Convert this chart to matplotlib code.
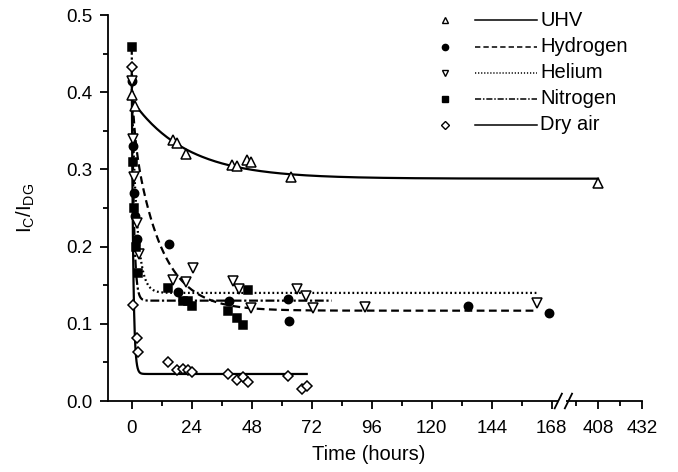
import numpy as np
import matplotlib
matplotlib.use("Agg")
import matplotlib.pyplot as plt
from matplotlib.ticker import FixedLocator, NullFormatter

plt.rcParams['font.family'] = ['Liberation Sans', 'DejaVu Sans']
plt.rcParams['mathtext.fontset'] = 'custom'
plt.rcParams['mathtext.rm'] = 'Liberation Sans'
plt.rcParams['mathtext.it'] = 'Liberation Sans'

# ---------------- data ----------------
series_names = ["UHV", "Hydrogen", "Helium", "Nitrogen", "Dry air"]

uhv_t = [0, 1.3, 16.7, 18, 21.7, 40, 42, 46.2, 47.6, 63.6, 408]
uhv_v = [0.397, 0.382, 0.338, 0.334, 0.320, 0.306, 0.305, 0.312, 0.309, 0.290, 0.282]

h2_t = [0, 0.5, 1.0, 1.5, 2.2, 15, 18.6, 38.9, 62.4, 63, 134.7, 167]
h2_v = [0.414, 0.33, 0.27, 0.24, 0.21, 0.203, 0.141, 0.130, 0.132, 0.103, 0.123, 0.114]

he_t = [0, 0.5, 1.0, 2.0, 3.0, 16.7, 21.7, 24.7, 40.7, 43, 47.6, 66, 69.7, 72.7, 93.3, 162.2]
he_v = [0.414, 0.34, 0.29, 0.23, 0.19, 0.157, 0.154, 0.172, 0.155, 0.145, 0.120, 0.145, 0.136, 0.121, 0.122, 0.127]

n2_t = [0, 0.5, 1.0, 1.8, 2.5, 14.7, 20.4, 22.7, 24, 38.7, 42, 44.4, 46.7]
n2_v = [0.458, 0.31, 0.25, 0.20, 0.166, 0.146, 0.129, 0.129, 0.123, 0.116, 0.108, 0.098, 0.144]

air_t = [0, 0.7, 2.0, 2.7, 14.7, 18.3, 20.4, 22.7, 24, 38.4, 42, 44.7, 46.7, 62.4, 68, 70]
air_v = [0.432, 0.124, 0.082, 0.064, 0.050, 0.040, 0.042, 0.040, 0.037, 0.035, 0.027, 0.031, 0.025, 0.032, 0.015, 0.019]

# exponential-decay fit parameters:
# plateau, fast amplitude, fast tau (h), slow amplitude, slow tau (h), curve end (h)
fit_plateau = [0.288, 0.117, 0.140, 0.130, 0.035]
fit_amp1 = [0.000, 0.060, 0.270, 0.330, 0.400]
fit_tau1 = [1.0, 1.0, 2.0, 0.8, 0.6]
fit_amp2 = [0.102, 0.240, 0.0, 0.0, 0.0]
fit_tau2 = [22.0, 11.0, 1.0, 1.0, 1.0]
fit_end = [408, 162, 162, 80, 70]

x_major = [0, 24, 48, 72, 96, 120, 144, 168, 408, 432]
x_minor = [12, 36, 60, 84, 108, 132, 156, 396, 420]

# ---------------- broken x scale ----------------
brk_x = [-100, 168, 396, 432, 2000]
brk_u = [-100, 168, 177.7, 204.1, 204.1 + (2000 - 432) * 0.733]

def fwd(x):
    return np.interp(x, brk_x, brk_u)

def inv(u):
    return np.interp(u, brk_u, brk_x)

fig = plt.figure(figsize=(6.78, 4.72), dpi=100)
ax = fig.add_axes([108 / 678, 71 / 472, 534 / 678, 386 / 472])
ax.set_xscale('function', functions=(fwd, inv))

markers = ['^', 'o', 'v', 's', 'D']
mfill = ['white', 'black', 'white', 'black', 'white']
msize = [6.5, 6, 6.5, 5.5, 5.2]
lstyles = ['-', (0, (3.5, 2.0)), (0, (0.8, 1.2)), (0, (4, 1.2, 1, 1.2)), '-']

all_t = [uhv_t, h2_t, he_t, n2_t, air_t]
all_v = [uhv_v, h2_v, he_v, n2_v, air_v]

for i in range(5):
    tt = np.concatenate([np.linspace(0, 6, 300), np.linspace(6, fit_end[i], 600)])
    yy = (fit_plateau[i] + fit_amp1[i] * np.exp(-tt / fit_tau1[i])
          + fit_amp2[i] * np.exp(-tt / fit_tau2[i]))
    ax.plot(tt, yy, color='black', lw=1.6, linestyle=lstyles[i], zorder=2)
    ax.plot(all_t[i], all_v[i], linestyle='none', marker=markers[i],
            markersize=msize[i], markerfacecolor=mfill[i],
            markeredgecolor='black', markeredgewidth=1.1, zorder=3)

ax.set_xlim(-9.48, 432)
ax.set_ylim(0, 0.5)
ax.xaxis.set_major_locator(FixedLocator(x_major))
ax.xaxis.set_minor_locator(FixedLocator(x_minor))
ax.xaxis.set_minor_formatter(NullFormatter())
ax.set_xticklabels([str(v) for v in x_major])
ax.yaxis.set_major_locator(FixedLocator([0, 0.1, 0.2, 0.3, 0.4, 0.5]))
ax.yaxis.set_minor_locator(FixedLocator([0.05, 0.15, 0.25, 0.35, 0.45]))
ax.yaxis.set_major_formatter(matplotlib.ticker.FormatStrFormatter('%.1f'))

for s in ['top', 'right']:
    ax.spines[s].set_visible(False)
for s in ['left', 'bottom']:
    ax.spines[s].set_linewidth(1.3)

ax.tick_params(axis='y', which='major', direction='out', length=5.5, width=1.3,
               labelsize=13.5, pad=6)
ax.tick_params(axis='x', which='major', direction='out', length=5.5, width=1.3,
               labelsize=13.5, pad=8)
ax.tick_params(which='minor', direction='out', length=3.5, width=1.3)

ax.set_xlabel('Time (hours)', fontsize=14.5)
ax.xaxis.set_label_coords((369 - 108) / 534, (401 - 445) / 386)
ax.set_ylabel(r'$\mathregular{I_C/I_{DG}}$', fontsize=14.5)
ax.yaxis.set_label_coords((37 - 108) / 534, 0.5)

# axis break marks
ax.plot([0.8435, 0.8575], [0, 0], transform=ax.transAxes, color='white',
        lw=3, clip_on=False, zorder=5, solid_capstyle='butt')
for x0 in [0.8365, 0.8555]:
    ax.plot([x0, x0 + 0.0135], [-0.019, 0.019], transform=ax.transAxes,
            color='black', lw=1.3, clip_on=False, zorder=6)

# legend (Origin style: marker, line sample, label)
leg_rows_px = [20, 47, 73, 99, 125]
for i, name in enumerate(series_names):
    yy = (401 - leg_rows_px[i]) / 386
    ax.plot([(445 - 108) / 534], [yy], transform=ax.transAxes,
            marker=markers[i], markersize=msize[i] * 0.75,
            markerfacecolor=mfill[i], markeredgecolor='black',
            markeredgewidth=1.0, linestyle='none', clip_on=False)
    ax.plot([(475 - 108) / 534, (537 - 108) / 534], [yy, yy],
            transform=ax.transAxes, color='black', lw=1.1,
            linestyle=lstyles[i], clip_on=False)
    ax.text((540 - 108) / 534, yy, name, transform=ax.transAxes,
            fontsize=14.5, va='center', ha='left')

fig.savefig('out.png', dpi=100)
